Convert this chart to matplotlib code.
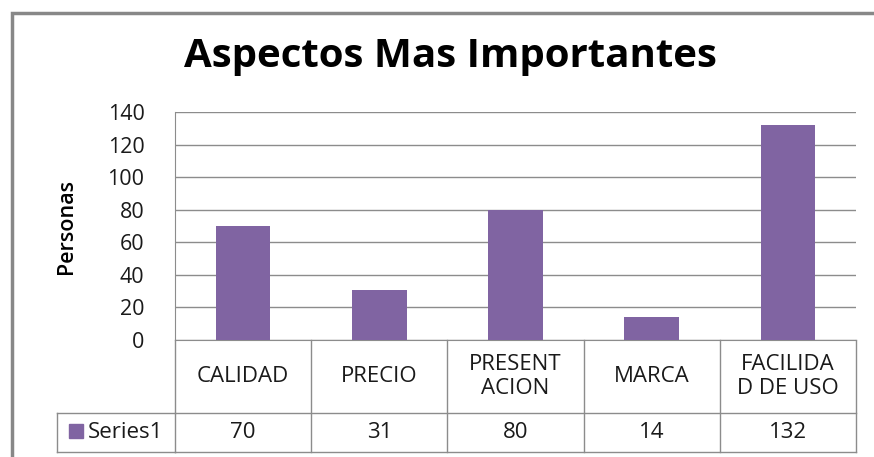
import matplotlib

matplotlib.use("Agg")
import matplotlib.pyplot as plt
from matplotlib.patches import Rectangle
from matplotlib.transforms import blended_transform_factory

categorias = ["CALIDAD", "PRECIO", "PRESENT\nACION", "MARCA", "FACILIDA\nD DE USO"]
valores = [70, 31, 80, 14, 132]
serie = "Series1"
titulo = "Aspectos Mas Importantes"
eje_y = "Personas"
ticks_y = [0, 20, 40, 60, 80, 100, 120, 140]

W, H = 874, 457
MORADO = "#8064A2"
GRIS = "#8c8c8c"
TEXTO = "#1a1a1a"
FUENTE = ["Open Sans", "DejaVu Sans"]

plt.rcParams["font.family"] = FUENTE

fig = plt.figure(figsize=(W / 100, H / 100), dpi=100)


def fx(px):
    return px / W


def fy(py):
    return 1 - py / H


# marco exterior del gráfico (sale por la derecha y por abajo)
fig.patches.append(Rectangle((fx(12), fy(470)), fx(900), fy(13) - fy(470),
                             transform=fig.transFigure, fill=False,
                             edgecolor="#888888", lw=2.5))

ax = fig.add_axes([fx(175), fy(340), fx(856) - fx(175), fy(112) - fy(340)])
x = list(range(len(categorias)))
ax.bar(x, valores, width=0.4, color=MORADO, zorder=3)
ax.set_xlim(-0.5, len(categorias) - 0.5)
ax.set_ylim(0, 140)
ax.set_yticks(ticks_y)
ax.set_xticks([])
ax.tick_params(axis="y", length=0, pad=22, labelsize=15.5, labelcolor=TEXTO)
ax.grid(axis="y", color=GRIS, lw=1, zorder=0)
for s in ["top", "right"]:
    ax.spines[s].set_visible(False)
for s in ["left", "bottom"]:
    ax.spines[s].set_color(GRIS)
ax.set_ylabel(eje_y, fontsize=15.5, color="black", labelpad=22, fontweight="semibold")

fig.text(0.515, fy(56), titulo, ha="center", va="center",
         fontsize=29, fontweight="bold", color="black")

# tabla de datos bajo el eje
tr = blended_transform_factory(ax.transData, fig.transFigure)
y_cat, y_ser, y_fin = fy(340), fy(413), fy(452)
kw = dict(color=GRIS, lw=1, clip_on=False)
for i in range(len(categorias) + 1):
    ax.plot([i - 0.5, i - 0.5], [y_cat, y_fin], transform=tr, **kw)
for yy in (y_ser, y_fin):
    ax.plot([-0.5, len(categorias) - 0.5], [yy, yy], transform=tr, **kw)
fig.add_artist(plt.Line2D([fx(57), fx(175)], [y_ser, y_ser], transform=fig.transFigure, **kw))
fig.add_artist(plt.Line2D([fx(57), fx(175)], [y_fin, y_fin], transform=fig.transFigure, **kw))
fig.add_artist(plt.Line2D([fx(57), fx(57)], [y_ser, y_fin], transform=fig.transFigure, **kw))

for xi, cat, v in zip(x, categorias, valores):
    ax.text(xi, (y_cat + y_ser) / 2, cat, transform=tr, ha="center", va="center",
            fontsize=16, color=TEXTO, linespacing=1.2)
    ax.text(xi, (y_ser + y_fin) / 2, str(v), transform=tr, ha="center", va="center",
            fontsize=16, color=TEXTO)

fig.patches.append(Rectangle((fx(69), fy(438)), fx(14), fy(424) - fy(438),
                             transform=fig.transFigure, color=MORADO))
fig.text(fx(88), (y_ser + y_fin) / 2, serie, ha="left", va="center",
         fontsize=16, color=TEXTO)

fig.savefig("out.png", dpi=100)
